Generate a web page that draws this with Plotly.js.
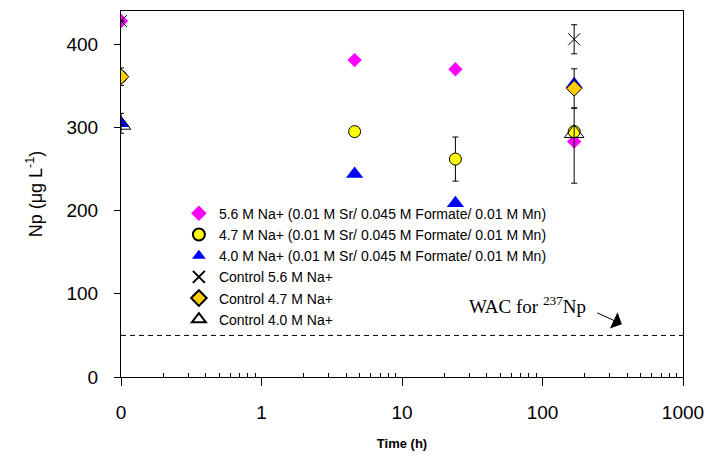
<!DOCTYPE html>
<html>
<head>
<meta charset="utf-8">
<script src="https://cdn.plot.ly/plotly-3.0.1.min.js"></script>
<style>html,body{margin:0;padding:0;background:#fff;} #chart{width:713px;height:460px;}</style>
</head>
<body>
<div id="chart"></div>
<script>
// ---- data ----
var timeH      = [0, 4.6, 24, 168];          // sampling times (h); 0 is drawn at the "0" tick
var ctlTimeH   = [0, 168];
var na56       = [428, 381, 370, 283];
var na47       = [361, 295, 262, 295];
var na47Err    = [null, null, 26.5, null];
var na40       = [305, 244, 209, 352];
var na40Err    = [12, null, null, null];
var ctl56      = [428, 406];
var ctl56Err   = [null, 17.5];
var ctl47      = [361, 347];
var ctl47Err   = [10.5, 23.5];
var ctl40      = [303, 293];
var ctl40ErrUp = [null, 30];
var ctl40ErrDn = [null, 60];
var wacLimit   = 50;
var xTickVals  = [0.1, 1, 10, 100, 1000];
var xTickText  = ['0', '1', '10', '100', '1000'];
var yTickVals  = [0, 100, 200, 300, 400];
var seriesNames = [
  '5.6 M Na+ (0.01 M Sr/ 0.045 M Formate/ 0.01 M Mn)',
  '4.7 M Na+ (0.01 M Sr/ 0.045 M Formate/ 0.01 M Mn)',
  '4.0 M Na+ (0.01 M Sr/ 0.045 M Formate/ 0.01 M Mn)',
  'Control 5.6 M Na+',
  'Control 4.7 M Na+',
  'Control 4.0 M Na+'
];

// time 0 cannot sit on a log axis: it is drawn at the leftmost tick (labelled "0")
function toAxis(t){ return t.map(function(v){ return v === 0 ? 0.1 : v; }); }

function err(arr){ return {type:'data', array:arr, visible:true, color:'#000', thickness:1, width:3}; }

var traces = [
  {x: toAxis(timeH), y: na56, name: seriesNames[0], mode:'markers', type:'scatter',
   marker:{symbol:'diamond', size:11, color:'#FF00FF', line:{width:0}}},
  {x: toAxis(timeH), y: na47, name: seriesNames[1], mode:'markers', type:'scatter',
   error_y: err(na47Err),
   marker:{symbol:'circle', size:12, color:'#FFFF00', line:{width:1, color:'#000'}}},
  {x: toAxis(timeH), y: na40, name: seriesNames[2], mode:'markers', type:'scatter',
   error_y: err(na40Err),
   marker:{symbol:'triangle-up', size:15, color:'#0000FF', line:{width:0}}},
  {x: toAxis(ctlTimeH), y: ctl56, name: seriesNames[3], mode:'markers', type:'scatter',
   error_y: err(ctl56Err),
   marker:{symbol:'x-thin-open', size:12, color:'#000', line:{width:1, color:'#000'}}},
  {x: toAxis(ctlTimeH), y: ctl47, name: seriesNames[4], mode:'markers', type:'scatter',
   error_y: err(ctl47Err),
   marker:{symbol:'diamond', size:12, color:'#FFCC00', line:{width:1, color:'#000'}}},
  {x: toAxis(ctlTimeH), y: ctl40, name: seriesNames[5], mode:'markers', type:'scatter',
   error_y: {type:'data', symmetric:false, array:ctl40ErrUp, arrayminus:ctl40ErrDn, visible:true, color:'#000', thickness:1, width:3},
   marker:{symbol:'triangle-up-open', size:17, color:'#000', line:{width:1, color:'#000'}}}
];

// minor ticks 2..9 in every decade
var minorVals = [];
[0.1, 1, 10, 100].forEach(function(d){ for (var k = 2; k <= 9; k++) minorVals.push(d * k); });

var layout = {
  width: 713, height: 460,
  paper_bgcolor:'#fff', plot_bgcolor:'#fff',
  margin:{l:121, r:30, t:11, b:83},
  font:{family:'Liberation Sans, Arial, sans-serif', color:'#000'},
  showlegend:true,
  legend:{x:0.103, y:0.49, xanchor:'left', yanchor:'top', bgcolor:'rgba(0,0,0,0)', borderwidth:0,
          font:{size:14, family:'Liberation Sans, Arial, sans-serif'}, itemwidth:30, itemsizing:'constant'},
  xaxis:{type:'log', range:[-1, 3], tickmode:'array', tickvals:xTickVals, ticktext:xTickText,
         ticks:'outside', ticklen:8, tickwidth:1, tickcolor:'#000',
         showline:true, linecolor:'#000', linewidth:1, mirror:true, showgrid:false, zeroline:false,
         tickfont:{size:19}, ticklabelstandoff:10,
         minor:{tickmode:'array', tickvals:minorVals, ticks:'inside', ticklen:4, tickwidth:1, tickcolor:'#000', showgrid:false},
         title:{text:'<b>Time (h)</b>', font:{size:13}, standoff:17}},
  yaxis:{range:[0, 440], tickmode:'array', tickvals:yTickVals,
         ticks:'outside', ticklen:6, tickwidth:1, tickcolor:'#000',
         showline:true, linecolor:'#000', linewidth:1, mirror:true, showgrid:false, zeroline:false,
         tickfont:{size:19}, ticklabelstandoff:12,
         title:{text:'Np (\u03bcg L<sup>-1</sup>)', font:{size:18}, standoff:19}},
  shapes:[{type:'line', xref:'paper', yref:'y', x0:0, x1:1, y0:wacLimit, y1:wacLimit,
           line:{color:'#000', width:1, dash:'5px,4px'}}],
  annotations:[
    {xref:'x', yref:'y', x:1.891, y:86.5, text:'WAC for <sup>237</sup>Np', showarrow:false,
     font:{family:'Liberation Serif, Times New Roman, serif', size:19, color:'#000'}},
    {xref:'x', yref:'y', x:2.565, y:63.5, text:'', showarrow:true, ax:-26, ay:-12,
     arrowhead:1, arrowsize:3, arrowwidth:1, arrowcolor:'#000'}
  ]
};

Plotly.newPlot('chart', traces, layout, {staticPlot:true, displayModeBar:false});
</script>
</body>
</html>
